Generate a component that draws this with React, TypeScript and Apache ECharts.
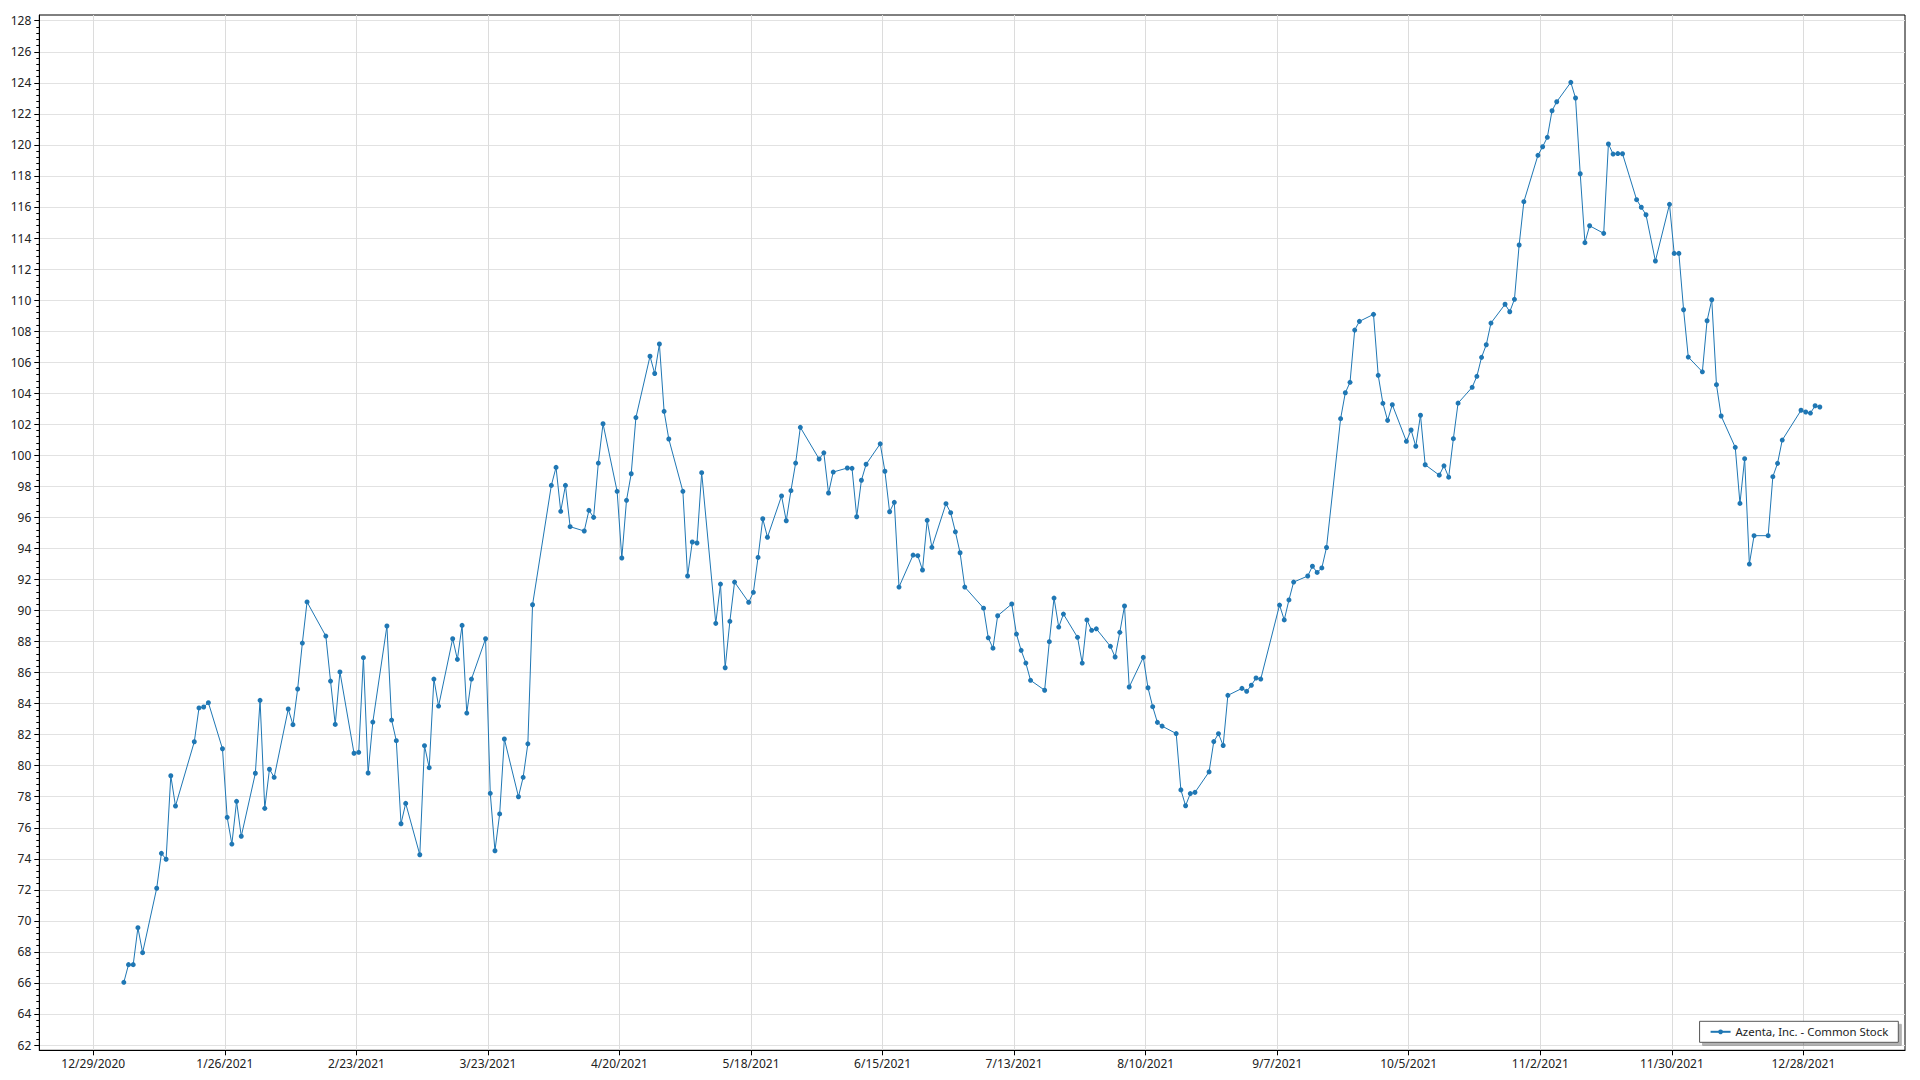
import React, { useEffect, useRef } from "react";
import * as echarts from "echarts";

const seriesName = "Azenta, Inc. - Common Stock";

const tradingDates: string[] = [
  "2021-01-04", "2021-01-05", "2021-01-06", "2021-01-07", "2021-01-08",
  "2021-01-11", "2021-01-12", "2021-01-13", "2021-01-14", "2021-01-15",
  "2021-01-19", "2021-01-20", "2021-01-21", "2021-01-22",
  "2021-01-25", "2021-01-26", "2021-01-27", "2021-01-28", "2021-01-29",
  "2021-02-01", "2021-02-02", "2021-02-03", "2021-02-04", "2021-02-05",
  "2021-02-08", "2021-02-09", "2021-02-10", "2021-02-11", "2021-02-12",
  "2021-02-16", "2021-02-17", "2021-02-18", "2021-02-19",
  "2021-02-22", "2021-02-23", "2021-02-24", "2021-02-25", "2021-02-26",
  "2021-03-01", "2021-03-02", "2021-03-03", "2021-03-04", "2021-03-05",
  "2021-03-08", "2021-03-09", "2021-03-10", "2021-03-11", "2021-03-12",
  "2021-03-15", "2021-03-16", "2021-03-17", "2021-03-18", "2021-03-19",
  "2021-03-22", "2021-03-23", "2021-03-24", "2021-03-25", "2021-03-26",
  "2021-03-29", "2021-03-30", "2021-03-31", "2021-04-01",
  "2021-04-05", "2021-04-06", "2021-04-07", "2021-04-08", "2021-04-09",
  "2021-04-12", "2021-04-13", "2021-04-14", "2021-04-15", "2021-04-16",
  "2021-04-19", "2021-04-20", "2021-04-21", "2021-04-22", "2021-04-23",
  "2021-04-26", "2021-04-27", "2021-04-28", "2021-04-29", "2021-04-30",
  "2021-05-03", "2021-05-04", "2021-05-05", "2021-05-06", "2021-05-07",
  "2021-05-10", "2021-05-11", "2021-05-12", "2021-05-13", "2021-05-14",
  "2021-05-17", "2021-05-18", "2021-05-19", "2021-05-20", "2021-05-21",
  "2021-05-24", "2021-05-25", "2021-05-26", "2021-05-27", "2021-05-28",
  "2021-06-01", "2021-06-02", "2021-06-03", "2021-06-04",
  "2021-06-07", "2021-06-08", "2021-06-09", "2021-06-10", "2021-06-11",
  "2021-06-14", "2021-06-15", "2021-06-16", "2021-06-17", "2021-06-18",
  "2021-06-21", "2021-06-22", "2021-06-23", "2021-06-24", "2021-06-25",
  "2021-06-28", "2021-06-29", "2021-06-30", "2021-07-01", "2021-07-02",
  "2021-07-06", "2021-07-07", "2021-07-08", "2021-07-09",
  "2021-07-12", "2021-07-13", "2021-07-14", "2021-07-15", "2021-07-16",
  "2021-07-19", "2021-07-20", "2021-07-21", "2021-07-22", "2021-07-23",
  "2021-07-26", "2021-07-27", "2021-07-28", "2021-07-29", "2021-07-30",
  "2021-08-02", "2021-08-03", "2021-08-04", "2021-08-05", "2021-08-06",
  "2021-08-09", "2021-08-10", "2021-08-11", "2021-08-12", "2021-08-13",
  "2021-08-16", "2021-08-17", "2021-08-18", "2021-08-19", "2021-08-20",
  "2021-08-23", "2021-08-24", "2021-08-25", "2021-08-26", "2021-08-27",
  "2021-08-30", "2021-08-31", "2021-09-01", "2021-09-02", "2021-09-03",
  "2021-09-07", "2021-09-08", "2021-09-09", "2021-09-10",
  "2021-09-13", "2021-09-14", "2021-09-15", "2021-09-16", "2021-09-17",
  "2021-09-20", "2021-09-21", "2021-09-22", "2021-09-23", "2021-09-24",
  "2021-09-27", "2021-09-28", "2021-09-29", "2021-09-30", "2021-10-01",
  "2021-10-04", "2021-10-05", "2021-10-06", "2021-10-07", "2021-10-08",
  "2021-10-11", "2021-10-12", "2021-10-13", "2021-10-14", "2021-10-15",
  "2021-10-18", "2021-10-19", "2021-10-20", "2021-10-21", "2021-10-22",
  "2021-10-25", "2021-10-26", "2021-10-27", "2021-10-28", "2021-10-29",
  "2021-11-01", "2021-11-02", "2021-11-03", "2021-11-04", "2021-11-05",
  "2021-11-08", "2021-11-09", "2021-11-10", "2021-11-11", "2021-11-12",
  "2021-11-15", "2021-11-16", "2021-11-17", "2021-11-18", "2021-11-19",
  "2021-11-22", "2021-11-23", "2021-11-24", "2021-11-26",
  "2021-11-29", "2021-11-30", "2021-12-01", "2021-12-02", "2021-12-03",
  "2021-12-06", "2021-12-07", "2021-12-08", "2021-12-09", "2021-12-10",
  "2021-12-13", "2021-12-14", "2021-12-15", "2021-12-16", "2021-12-17",
  "2021-12-20", "2021-12-21", "2021-12-22", "2021-12-23",
  "2021-12-27", "2021-12-28", "2021-12-29", "2021-12-30", "2021-12-31",
];

const closingPrices: number[] = [
  66.04, 67.18, 67.18, 69.56, 67.95,
  72.1, 74.35, 73.97, 79.35, 77.4,
  81.54, 83.72, 83.78, 84.06,
  81.09, 76.67, 74.95, 77.7, 75.45,
  79.51, 84.21, 77.25, 79.77, 79.25,
  83.65, 82.64, 84.94, 87.9, 90.55,
  88.35, 85.45, 82.66, 86.04,
  80.8, 80.86, 86.96, 79.53, 82.81,
  89.0, 82.94, 81.61, 76.26, 77.57,
  74.26, 81.29, 79.87, 85.58, 83.84,
  88.18, 86.85, 89.04, 83.39, 85.58,
  88.18, 78.22, 74.52, 76.89, 81.72,
  78.0, 79.25, 81.41, 90.37,
  98.06, 99.22, 96.39, 98.06, 95.4,
  95.12, 96.45, 96.0, 99.5, 102.03,
  97.68, 93.38, 97.1, 98.81, 102.43,
  106.38, 105.27, 107.17, 102.83, 101.05,
  97.68, 92.22, 94.41, 94.35, 98.88,
  89.17, 91.7, 86.31, 89.3, 91.83,
  90.53, 91.17, 93.42, 95.91, 94.72,
  97.38, 95.78, 97.72, 99.5, 101.8,
  99.76, 100.16, 97.57, 98.92,
  99.18, 99.16, 96.04, 98.39, 99.42,
  100.74, 98.97, 96.36, 96.97, 91.51,
  93.57, 93.53, 92.61, 95.81, 94.07,
  96.88, 96.3, 95.07, 93.72, 91.51,
  90.15, 88.24, 87.57, 89.66,
  90.42, 88.48, 87.43, 86.61, 85.5,
  84.86, 87.99, 90.8, 88.93, 89.77,
  88.27, 86.61, 89.39, 88.72, 88.82,
  87.69, 87.0, 88.59, 90.29, 85.07,
  86.98, 85.02, 83.8, 82.79, 82.55,
  82.07, 78.44, 77.42, 78.2, 78.28,
  79.6, 81.55, 82.06, 81.3, 84.53,
  84.98, 84.79, 85.18, 85.65, 85.58,
  90.35, 89.39, 90.68, 91.83,
  92.22, 92.85, 92.45, 92.74, 94.06,
  102.36, 104.03, 104.7, 108.07, 108.63,
  109.08, 105.15, 103.35, 102.25, 103.26,
  100.9, 101.63, 100.58, 102.58, 99.39,
  98.72, 99.32, 98.59, 101.07, 103.36,
  104.38, 105.09, 106.31, 107.12, 108.52,
  109.73, 109.25, 110.05, 113.55, 116.34,
  119.33, 119.88, 120.49, 122.2, 122.78,
  124.03, 123.02, 118.14, 113.7, 114.79,
  114.3, 120.06, 119.41, 119.44, 119.43,
  116.47, 115.98, 115.5, 112.52,
  116.17, 113.01, 113.01, 109.38, 106.33,
  105.38, 108.67, 110.02, 104.55, 102.53,
  100.51, 96.9, 99.78, 92.99, 94.82,
  94.82, 98.62, 99.48, 100.98,
  102.9, 102.79, 102.72, 103.19, 103.11,
];

const xTickDates: string[] = [
  "2020-12-29", "2021-01-26", "2021-02-23", "2021-03-23", "2021-04-20",
  "2021-05-18", "2021-06-15", "2021-07-13", "2021-08-10", "2021-09-07",
  "2021-10-05", "2021-11-02", "2021-11-30", "2021-12-28",
];

const yTickValues: number[] = [
  62, 64, 66, 68, 70, 72, 74, 76, 78, 80, 82, 84, 86, 88, 90, 92, 94, 96, 98,
  100, 102, 104, 106, 108, 110, 112, 114, 116, 118, 120, 122, 124, 126, 128,
];

const DAY = 86400000;
const toTs = (s: string, hour = 0) => {
  const [y, m, d] = s.split("-").map(Number);
  return new Date(y, m - 1, d, hour).getTime();
};
const fmtDate = (ts: number) => {
  const d = new Date(ts + DAY / 4);
  return `${d.getMonth() + 1}/${d.getDate()}/${d.getFullYear()}`;
};

const FONT = '"Segoe UI", "Noto Sans", "Open Sans", sans-serif';

export default function App() {
  const ref = useRef<HTMLDivElement>(null);

  useEffect(() => {
    if (!ref.current) return;
    const chart = echarts.init(ref.current, null, { renderer: "svg" });

    const seriesData = tradingDates.map((d, i) => [toTs(d, 12), closingPrices[i]]);
    const xTicks = xTickDates.map((d) => toTs(d));
    const origin = toTs("2020-12-29");
    const xMin = origin - 11.49 * DAY;
    const xMax = origin + 385.63 * DAY;

    const minorTicks: number[] = [];
    for (let i = 0; i < yTickValues.length - 1; i++) {
      for (let k = 1; k < 5; k++) {
        minorTicks.push(+(yTickValues[i] + k * 0.4).toFixed(2));
      }
    }

    chart.setOption({
      animation: false,
      backgroundColor: "#ffffff",
      textStyle: { fontFamily: FONT },
      grid: {
        left: 39.3,
        right: 15,
        top: 15,
        bottom: 29.7,
        show: true,
        borderColor: "#000",
        borderWidth: 1,
        backgroundColor: "transparent",
      },
      legend: {
        show: true,
        data: [seriesName],
        right: 21.7,
        bottom: 37.7,
        orient: "horizontal",
        padding: [5, 10, 5, 10],
        itemWidth: 20,
        itemHeight: 6,
        itemGap: 6,
        backgroundColor: "#ffffff",
        borderColor: "#555",
        borderWidth: 1,
        borderRadius: 0,
        shadowColor: "rgba(0,0,0,0.3)",
        shadowBlur: 1,
        shadowOffsetX: 3,
        shadowOffsetY: 3,
        textStyle: { fontSize: 11.4, color: "#222", fontFamily: FONT },
      },
      xAxis: {
        type: "value",
        min: xMin,
        max: xMax,
        axisLine: { show: true, onZero: false, lineStyle: { color: "#000", width: 1 } },
        axisTick: {
          show: true,
          length: 5,
          inside: false,
          customValues: xTicks,
          lineStyle: { color: "#000" },
        },
        axisLabel: {
          show: true,
          customValues: xTicks,
          margin: 7,
          fontSize: 12,
          color: "#222",
          fontFamily: FONT,
          formatter: (v: number) => fmtDate(v),
        },
        splitLine: { show: true, lineStyle: { color: "#dcdcdc", width: 1 } },
      },
      yAxis: [
        {
          type: "value",
          min: 61.66,
          max: 128.37,
          position: "left",
          axisLine: { show: true, onZero: false, lineStyle: { color: "#000", width: 1 } },
          axisTick: {
            show: true,
            length: 5,
            customValues: yTickValues,
            lineStyle: { color: "#000" },
          },
          axisLabel: {
            show: true,
            customValues: yTickValues,
            margin: 8,
            fontSize: 12,
            color: "#222",
            fontFamily: FONT,
          },
          splitLine: { show: true, lineStyle: { color: "#e2e2e2", width: 1 } },
        },
        {
          type: "value",
          min: 61.66,
          max: 128.37,
          position: "left",
          offset: 0,
          axisLine: { show: false },
          axisTick: {
            show: true,
            length: 3,
            customValues: minorTicks,
            lineStyle: { color: "#000" },
          },
          axisLabel: { show: false },
          splitLine: { show: false },
        },
      ],
      series: [
        {
          name: seriesName,
          type: "line",
          data: seriesData,
          yAxisIndex: 0,
          symbol: "circle",
          symbolSize: 5,
          showSymbol: true,
          showAllSymbol: true,
          lineStyle: { color: "#1f77b4", width: 1 },
          itemStyle: { color: "#1f77b4" },
          emphasis: { disabled: true },
        },
      ],
    });

    return () => chart.dispose();
  }, []);

  return (
    <div
      ref={ref}
      style={{ position: "absolute", left: 0, top: 0, width: 1920, height: 1080, background: "#fff" }}
    />
  );
}
